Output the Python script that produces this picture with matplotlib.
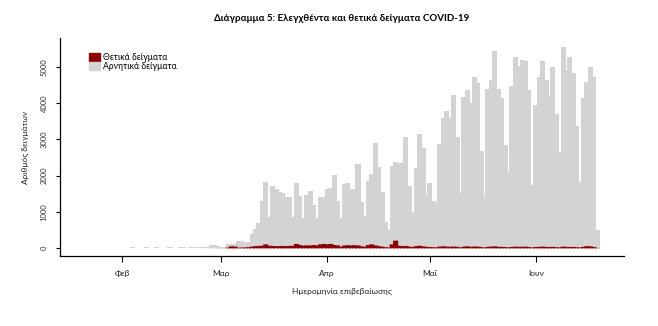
import pandas as pd
import matplotlib.pyplot as plt
from matplotlib.patches import Patch

plt.rcParams['font.family'] = ['Lato', 'DejaVu Sans']
plt.rcParams['axes.spines.right'] = False
plt.rcParams['axes.spines.top'] = False

# daily samples, starting 25 Jan 2020
start_date = '2020-01-25'
tested = [
    0, 10, 5, 15, 10, 20, 10,
    15, 20, 10, 25, 15, 10, 20, 25, 15, 20, 30, 15, 20, 10, 25, 20, 15, 30,
    25, 20, 30, 25, 20, 25, 30,
    40, 90, 90, 60, 30, 30, 110, 115, 120, 210, 210, 180, 180, 385, 520, 690,
    1300, 1835, 870, 1725, 1630, 1540, 1515, 1420, 1420, 870, 1790, 1440, 826,
    1470, 1580, 1190, 826, 1400, 1400, 1640, 1650, 2020, 1310, 826, 1760, 1790,
    1630, 1630, 2310, 1285, 890, 1860, 2040, 2910, 2250, 1560, 735, 505, 2270,
    2390, 2360, 2340, 3075, 1725, 1010, 2220, 3150, 2750, 1470, 1790, 1300,
    1240, 2860, 3580, 3780, 3580, 4220, 3075, 1515, 4180, 4360, 3990, 4730,
    4560, 2690, 1420, 4380, 4640, 5430, 4380, 4130, 2850, 2110, 4470, 5260,
    5020, 5190, 5170, 4360, 1745, 3950, 4730, 5170, 4640, 4200, 4990, 3700,
    2660, 5550, 4910, 5260, 4820, 3370, 1820, 4130, 4590, 5000, 4730, 505,
]
positive = [0] * 32 + [
    1, 2, 1, 3, 2, 3, 20, 55, 50, 15, 20, 25, 30, 45, 60, 65, 70, 110, 70, 65,
    60, 60, 65, 60, 65, 70, 120, 90, 70, 80, 80, 90, 80, 110, 120, 110, 120, 90,
    80, 40, 75, 85, 80, 85, 80, 55, 40, 90, 110, 80, 60, 45, 30, 25, 110, 210,
    70, 60, 65, 45, 35, 60, 70, 55, 40, 35, 30, 25, 50, 55, 45, 40, 50, 40, 25,
    45, 55, 40, 50, 45, 35, 20, 40, 45, 55, 40, 40, 35, 25, 35, 45, 40, 40, 45,
    35, 20, 35, 40, 45, 40, 35, 40, 30, 25, 45, 40, 35, 40, 30, 25, 40, 60, 55,
    35, 10,
]
month_ticks = ['2020-02-01', '2020-03-01', '2020-04-01', '2020-05-01', '2020-06-01']
month_labels = ['Φεβ', 'Μαρ', 'Απρ', 'Μαΐ', 'Ιουν']

dates = pd.date_range(start_date, periods=len(tested), freq='D')
negative = [t - p for t, p in zip(tested, positive)]

gray = '#d3d3d3'
red = '#8b0000'

fig = plt.figure(figsize=(6.58, 3.26), dpi=100)
ax = fig.add_axes([0.0912, 0.2147, 0.857, 0.6687])

# thick bars overlap their neighbours, like wide lines
ax.bar(dates, negative, bottom=positive, width=1.5, color=gray, linewidth=0)
ax.bar(dates, positive, width=1.5, color=red, linewidth=0, snap=False)

ax.set_xlim(pd.Timestamp('2020-02-01') - pd.Timedelta(days=18.2),
            pd.Timestamp('2020-02-01') + pd.Timedelta(days=146.8))
ax.set_ylim(-212, 5792)

ax.set_xticks(pd.to_datetime(month_ticks))
ax.set_xticklabels(month_labels, fontsize=6, color='#222222')
ax.set_yticks([0, 1000, 2000, 3000, 4000, 5000])
ax.set_yticklabels(['0', '1000', '2000', '3000', '4000', '5000'],
                   rotation=90, va='center', fontsize=5.5, color='#333333')
ax.tick_params(axis='x', length=4, width=0.8, pad=6)
ax.tick_params(axis='y', length=3, width=0.8, pad=6)
for s in ['left', 'bottom']:
    ax.spines[s].set_linewidth(0.9)

ax.set_xlabel('Ημερομηνία επιβεβαίωσης', fontsize=6, labelpad=8, color='#222222')
ax.set_ylabel('Αριθμός δειγμάτων', fontsize=6, labelpad=8, color='#222222')
ax.set_title('Διάγραμμα 5: Ελεγχθέντα και θετικά δείγματα COVID-19',
             fontsize=7, fontweight='bold', pad=12)

handles = [Patch(color=red, label='Θετικά δείγματα'),
           Patch(color=gray, label='Αρνητικά δείγματα')]
ax.legend(handles=handles, loc='upper left', bbox_to_anchor=(0.051, 0.932),
          frameon=False, fontsize=6.2, handlelength=1.3, handleheight=1.1,
          labelspacing=0, handletextpad=0.3, borderpad=0, borderaxespad=0)

plt.savefig('out.png', dpi=100)
